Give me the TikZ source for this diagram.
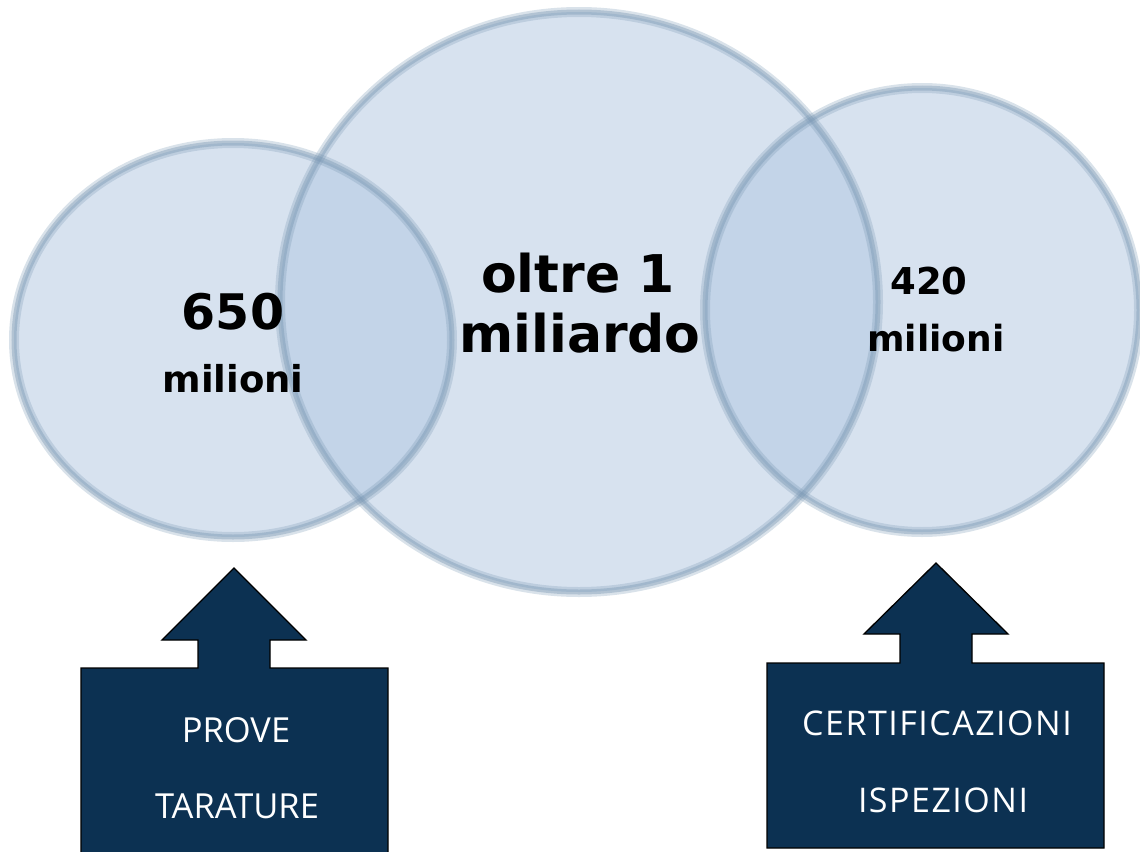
\documentclass[tikz,border=0pt]{standalone}
\usepackage{fontspec}
\setmainfont{DejaVu Sans}
\newfontfamily\boxfont{Open Sans}
\newfontfamily\boxfontwide[LetterSpace=4.4]{Open Sans}
\definecolor{circfill}{RGB}{175,198,224}
\definecolor{ringc}{RGB}{120,150,178}
\definecolor{boxc}{RGB}{12,49,82}
\begin{document}
\begin{tikzpicture}[x=1pt,y=-1pt,
  circfillst/.style={fill=circfill, fill opacity=0.5},
  ringouter/.style={draw=ringc, draw opacity=0.28, line width=10pt},
  ringinner/.style={draw=ringc, draw opacity=0.4, line width=5pt},
  bignum/.style={anchor=base, inner sep=0pt, font=\bfseries\fontsize{52}{52}\selectfont},
  midnum/.style={anchor=base, inner sep=0pt, font=\bfseries\fontsize{#1}{#1}\selectfont},
  boxtext/.style={anchor=base, inner sep=0pt, text=white, font=\boxfont\fontsize{34.5}{34.5}\selectfont},
  boxtextwide/.style={anchor=base, inner sep=0pt, text=white, font=\boxfontwide\fontsize{34}{34}\selectfont},
  arrowbox/.style={fill=boxc},
  arrowline/.style={draw=black, line width=1.3pt, line join=miter}]
\useasboundingbox (0,0) rectangle (1140,851);
% circles fill
\fill[circfillst] (233,340) ellipse [x radius=219pt, y radius=197pt];
\fill[circfillst] (922,310) ellipse [x radius=217pt, y radius=222pt];
\fill[circfillst] (579,302) ellipse [x radius=299pt, y radius=290pt];
% rings
\foreach \c/\rx/\ry in {{(233,340)}/219/197, {(922,310)}/217/222, {(579,302)}/299/290}{
  \draw[ringouter] \c ellipse [x radius=\rx pt, y radius=\ry pt];
  \draw[ringinner] \c ellipse [x radius=\rx pt, y radius=\ry pt];
}
% texts in circles
\node[bignum] (oltre) at (578,292) {oltre 1};
\node[bignum] (miliardo) at (580,352) {miliardo};
\node[midnum=49] (n650) at (233,329) {650};
\node[midnum=37] (mil650) at (233,392) {milioni};
\node[midnum=37] (n420) at (929,294) {420};
\node[midnum=36] (mil420) at (936,351) {milioni};
% left arrow box
\fill[arrowbox] (81,853) -- (81,668) -- (198,668) -- (198,640) -- (162,640) -- (234,568) -- (306,640) -- (270,640) -- (270,668) -- (388,668) -- (388,853) -- cycle;
\draw[arrowline] (81,853) -- (81,668) -- (198,668) -- (198,640) -- (162,640) -- (234,568) -- (306,640) -- (270,640) -- (270,668) -- (388,668) -- (388,853);
\node[boxtext] (prove) at (236,742) {PROVE};
\node[boxtext] (tarature) at (237,818) {TARATURE};
% right arrow box
\fill[arrowbox] (767,848) -- (767,663) -- (900,663) -- (900,634) -- (864,634) -- (936,563) -- (1008,634) -- (972,634) -- (972,663) -- (1104,663) -- (1104,848) -- cycle;
\draw[arrowline] (767,848) -- (767,663) -- (900,663) -- (900,634) -- (864,634) -- (936,563) -- (1008,634) -- (972,634) -- (972,663) -- (1104,663) -- (1104,848) -- cycle;
\node[boxtextwide] (cert) at (937,735) {CERTIFICAZIONI};
\node[boxtextwide] (isp) at (943,812) {ISPEZIONI};
\end{tikzpicture}
\end{document}
